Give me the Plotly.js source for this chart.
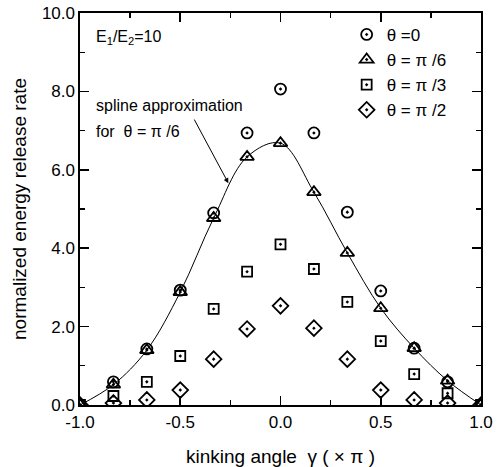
<!DOCTYPE html>
<html>
<head>
<meta charset="utf-8">
<script src="https://cdn.plot.ly/plotly-3.0.1.min.js"></script>
<style>html,body{margin:0;padding:0;background:#fff;}#chart{width:500px;height:467px;}</style>
</head>
<body>
<div id="chart"></div>
<script>
// kinking angle gamma (in units of pi)
const gamma = [-1, -5/6, -2/3, -1/2, -1/3, -1/6, 0, 1/6, 1/3, 1/2, 2/3, 5/6, 1];
const theta0   = [0, 0.59, 1.43, 2.93, 4.90, 6.94, 8.06, 6.94, 4.92, 2.91, 1.45, 0.59, 0];
const thetaPi6 = [0, 0.52, 1.40, 2.88, 4.77, 6.33, 6.68, 5.43, 3.88, 2.47, 1.45, 0.62, 0];
const thetaPi3 = [0, 0.23, 0.59, 1.25, 2.45, 3.40, 4.10, 3.47, 2.63, 1.63, 0.79, 0.30, 0];
const thetaPi2 = [0, 0.05, 0.13, 0.38, 1.17, 1.94, 2.53, 1.96, 1.17, 0.38, 0.13, 0.05, 0];
const seriesNames = ["θ =0", "θ = π /6", "θ = π /3", "θ = π /2"];
const xTicks = [-1.0, -0.5, 0.0, 0.5, 1.0];
const yTicks = [0, 2, 4, 6, 8, 10];

const FONT = "Liberation Sans, Arial, Helvetica, sans-serif";
const mk = (sym, s) => ({symbol: sym, size: s, color: "#000", line: {color: "#000", width: 1.8}});

const traces = [
  {x: gamma, y: thetaPi6, mode: "lines", line: {shape: "spline", smoothing: 1, color: "#000", width: 1}, showlegend: false, hoverinfo: "skip"},
  {x: gamma, y: theta0, mode: "markers", name: seriesNames[0], marker: mk("circle-open-dot", 11)},
  {x: gamma, y: thetaPi6, mode: "markers", name: seriesNames[1], marker: mk("triangle-up-open-dot", 12)},
  {x: gamma, y: thetaPi3, mode: "markers", name: seriesNames[2], marker: mk("square-open-dot", 10)},
  {x: gamma, y: thetaPi2, mode: "markers", name: seriesNames[3], marker: mk("diamond-open-dot", 12)}
];

const axisCommon = {
  showline: true, linecolor: "#000", linewidth: 1.6, mirror: "ticks",
  ticks: "inside", ticklen: 9, tickwidth: 1.6, tickcolor: "#000",
  showgrid: false, zeroline: false,
  tickfont: {family: FONT, size: 17, color: "#000"}
};

const layout = {
  width: 500, height: 467,
  margin: {l: 80, r: 19, t: 13, b: 62},
  paper_bgcolor: "#fff", plot_bgcolor: "#fff",
  font: {family: FONT, color: "#000"},
  xaxis: Object.assign({}, axisCommon, {
    range: [-1, 1], tickvals: xTicks, ticktext: xTicks.map(v => v.toFixed(1)),
    minor: {ticks: "inside", ticklen: 5, tickwidth: 1.3, tickcolor: "#000", dtick: 0.25},
    ticklabelstandoff: 1,
    title: {text: "kinking angle  γ ( × π )", font: {family: FONT, size: 19, color: "#000"}, standoff: 18}
  }),
  yaxis: Object.assign({}, axisCommon, {
    range: [0, 10], tickvals: yTicks, ticktext: yTicks.map(v => v.toFixed(1)),
    minor: {ticks: "inside", ticklen: 5, tickwidth: 1.3, tickcolor: "#000", dtick: 1},
    title: {text: "normalized energy release rate", font: {family: FONT, size: 19, color: "#000"}, standoff: 10}
  }),
  legend: {x: 0.665, y: 0.99, xanchor: "left", yanchor: "top", bgcolor: "rgba(0,0,0,0)",
    font: {family: FONT, size: 17, color: "#000"}, tracegroupgap: 0},
  annotations: [
    {xref: "paper", yref: "paper", x: 0.035, y: 0.938, xanchor: "left", yanchor: "middle", showarrow: false,
     text: "E<sub>1</sub>/E<sub>2</sub>=10", font: {family: FONT, size: 16, color: "#000"}},
    {xref: "paper", yref: "paper", x: 0.035, y: 0.763, xanchor: "left", yanchor: "middle", showarrow: false,
     text: "spline approximation", font: {family: FONT, size: 16, color: "#000"}},
    {xref: "paper", yref: "paper", x: 0.035, y: 0.697, xanchor: "left", yanchor: "middle", showarrow: false,
     text: "for  θ = π /6", font: {family: FONT, size: 16, color: "#000"}},
    {x: -0.26, y: 5.66, ax: -0.434, ay: 7.32, axref: "x", ayref: "y", xref: "x", yref: "y",
     showarrow: true, arrowhead: 2, arrowsize: 1, arrowwidth: 1, arrowcolor: "#000", text: ""}
  ]
};

Plotly.newPlot("chart", traces, layout, {displayModeBar: false, staticPlot: true});
</script>
</body>
</html>
